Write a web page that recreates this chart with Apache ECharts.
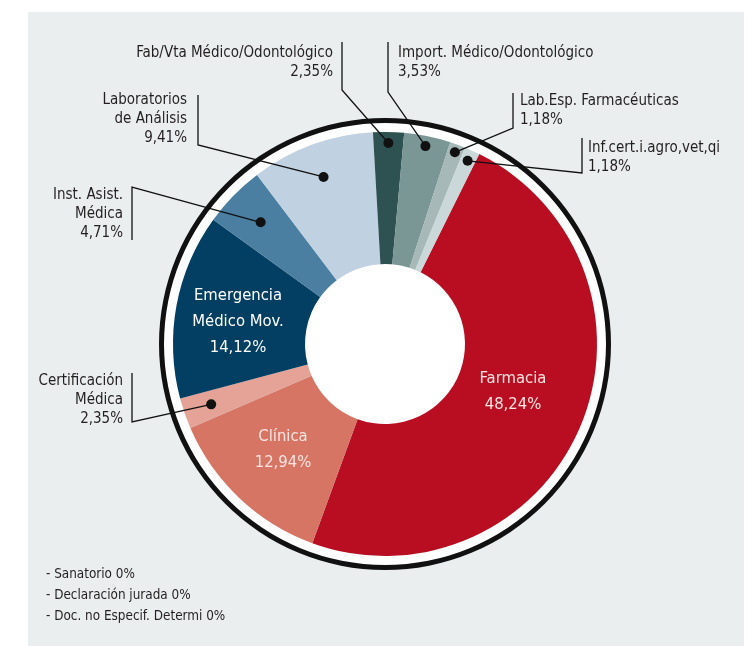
<!DOCTYPE html>
<html>
<head>
<meta charset="utf-8">
<script src="https://cdn.jsdelivr.net/npm/echarts@6/dist/echarts.min.js"></script>
<style>
  html, body { margin: 0; padding: 0; background: #fff; }
  #chart { width: 753px; height: 646px; }
</style>
</head>
<body>
<div id="chart"></div>
<script>
// datos del gráfico
const categories = [
  'Farmacia', 'Clínica', 'Certificación Médica', 'Emergencia Médico Mov.',
  'Inst. Asist. Médica', 'Laboratorios de Análisis', 'Fab/Vta Médico/Odontológico',
  'Import. Médico/Odontológico', 'Lab.Esp. Farmacéuticas', 'Inf.cert.i.agro,vet,qi'
]
const labelTexts = [
  'Farmacia', 'Clínica', 'Certificación\nMédica', 'Emergencia\nMédico Mov.',
  'Inst. Asist.\nMédica', 'Laboratorios\nde Análisis', 'Fab/Vta Médico/Odontológico',
  'Import. Médico/Odontológico', 'Lab.Esp. Farmacéuticas', 'Inf.cert.i.agro,vet,qi'
]
const values = [48.24, 12.94, 2.35, 14.12, 4.71, 9.41, 2.35, 3.53, 1.18, 1.18]
const sliceColors = [
  '#b90e22', '#d77565', '#e4a396', '#033f63', '#4a7fa2',
  '#c0d1e1', '#2e5251', '#7a9695', '#a6b9b8', '#cbd8d9'
]
const zeroCategories = ['Sanatorio', 'Declaración jurada', 'Doc. no Especif. Determi']
const zeroValues = [0, 0, 0]

const FONT = "'Liberation Sans Narrow', 'DejaVu Sans Condensed', sans-serif"
const CENTER = [385, 344]
const R_IN = 80
const R_OUT = 212
const START = 63.6

// posición de las etiquetas (solo layout)
const labelLayouts = [
  { inside: true, x: 513, y: 392, align: 'center', color: '#fbe4e1' },
  { inside: true, x: 283, y: 450, align: 'center', color: '#fbe4e1' },
  { x: 123, y: 400, align: 'right', barX: 132, barTop: 373, barBottom: 422, attach: 'bottom', dotR: 184 },
  { inside: true, x: 238, y: 322, align: 'center', color: '#ffffff' },
  { x: 123, y: 214, align: 'right', barX: 132, barTop: 187, barBottom: 240, attach: 'top', dotR: 174 },
  { x: 187, y: 119, align: 'right', barX: 198, barTop: 95, barBottom: 145, attach: 'bottom', dotR: 178 },
  { x: 333, y: 63, align: 'right', barX: 342, barTop: 42, barBottom: 90, attach: 'bottom', dotR: 201 },
  { x: 398, y: 63, align: 'left', barX: 388, barTop: 42, barBottom: 92, attach: 'bottom', dotR: 202 },
  { x: 520, y: 111, align: 'left', barX: 513, barTop: 93, barBottom: 128, attach: 'bottom', dotR: 204 },
  { x: 588, y: 158, align: 'left', barX: 582, barTop: 138, barBottom: 173, attach: 'bottom', dotR: 201 }
]

const total = values.reduce((a, b) => a + b, 0)
const mids = []
let acc = 0
values.forEach(v => { mids.push(acc + v / 2); acc += v })

const fmt = v => v.toFixed(2).replace('.', ',') + '%'

const outsideIdx = labelLayouts.map((l, i) => l.inside ? -1 : i).filter(i => i >= 0)

const plainRing = (radius, color, z) => ({
  type: 'pie',
  center: CENTER,
  radius: radius,
  silent: true,
  z: z,
  label: { show: false },
  labelLine: { show: false },
  emphasis: { disabled: true },
  itemStyle: { color: color, borderWidth: 0 },
  data: [{ value: 1 }]
})

const chart = echarts.init(document.getElementById('chart'))

const option = {
  animation: false,
  backgroundColor: '#ffffff',
  graphic: [
    {
      type: 'rect',
      z: -10,
      shape: { x: 28, y: 12, width: 716, height: 640 },
      style: { fill: '#eaeeef' }
    },
    ...zeroCategories.map((name, i) => ({
      type: 'text',
      left: 46,
      top: 568 + i * 21,
      style: {
        text: '- ' + name + ' ' + zeroValues[i] + '%',
        font: '13.4px ' + FONT,
        fill: '#231f20'
      }
    }))
  ],
  polar: { center: CENTER, radius: R_OUT },
  angleAxis: { type: 'value', min: 0, max: total, startAngle: START, clockwise: true, show: false },
  radiusAxis: { type: 'value', min: 0, max: R_OUT, show: false },
  series: [
    plainRing([R_OUT, 221], '#ffffff', 1),
    plainRing([221, 226], '#111111', 1),
    plainRing([0, R_IN], '#ffffff', 1),
    {
      type: 'pie',
      center: CENTER,
      radius: [R_IN, R_OUT],
      startAngle: START,
      clockwise: true,
      avoidLabelOverlap: false,
      silent: true,
      z: 2,
      emphasis: { disabled: true },
      itemStyle: { borderWidth: 0 },
      label: {
        show: true,
        position: 'outside',
        fontFamily: FONT,
        fontSize: 15,
        lineHeight: 19,
        color: '#231f20',
        formatter: p => labelTexts[p.dataIndex] + '\n' + fmt(p.value)
      },
      labelLine: { show: false },
      labelLayout: params => {
        const L = labelLayouts[params.dataIndex]
        return { x: L.x, y: L.y, align: L.align, verticalAlign: 'middle' }
      },
      data: categories.map((name, i) => {
        const L = labelLayouts[i]
        const item = {
          name: name,
          value: values[i],
          itemStyle: { color: sliceColors[i] }
        }
        if (L.inside) {
          item.label = { color: L.color, fontSize: 16.5, lineHeight: 26 }
        }
        return item
      })
    },
    {
      // líneas guía y puntos, sobre las porciones
      type: 'custom',
      coordinateSystem: 'polar',
      silent: true,
      z: 5,
      data: outsideIdx.map(i => [labelLayouts[i].dotR, mids[i], i]),
      renderItem: (params, api) => {
        const p = api.coord([api.value(0), api.value(1)])
        const L = labelLayouts[api.value(2)]
        const ends = L.attach === 'top' ? [L.barTop, L.barBottom] : [L.barBottom, L.barTop]
        return {
          type: 'group',
          children: [
            {
              type: 'polyline',
              shape: { points: [p, [L.barX, ends[0]], [L.barX, ends[1]]] },
              style: { stroke: '#111111', lineWidth: 1.3, fill: null }
            },
            {
              type: 'circle',
              shape: { cx: p[0], cy: p[1], r: 5 },
              style: { fill: '#111111' }
            }
          ]
        }
      }
    }
  ]
}

chart.setOption(option)
</script>
</body>
</html>
